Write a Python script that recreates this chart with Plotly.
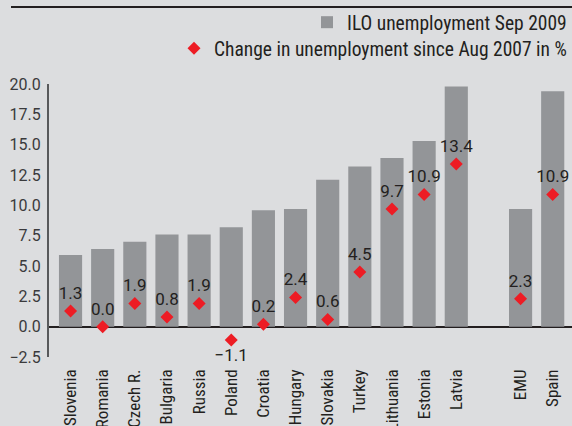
import plotly.graph_objects as go

categories = ["Slovenia", "Romania", "Czech R.", "Bulgaria", "Russia", "Poland", "Croatia",
              "Hungary", "Slovakia", "Turkey", "Lithuania", "Estonia", "Latvia", " ", "EMU", "Spain"]
unemployment_sep2009 = [5.9, 6.4, 7.0, 7.6, 7.6, 8.2, 9.6, 9.7, 12.1, 13.2, 13.9, 15.3, 19.8, None, 9.7, 19.4]
change_since_aug2007 = [1.3, 0.0, 1.9, 0.8, 1.9, -1.1, 0.2, 2.4, 0.6, 4.5, 9.7, 10.9, 13.4, None, 2.3, 10.9]
y_ticks = [-2.5, 0.0, 2.5, 5.0, 7.5, 10.0, 12.5, 15.0, 17.5, 20.0]

FONT = "Roboto, 'DejaVu Sans', sans-serif"
BG = "#dcdddf"
BAR = "#939598"
RED = "#ed1c24"
TXT = "#231f20"

labels = [("" if v is None else ("\u2212" + f"{abs(v):.1f}" if v < 0 else f"{v:.1f}")) for v in change_since_aug2007]
positions = [("bottom center" if (v is not None and v < 0) else "top center") for v in change_since_aug2007]

fig = go.Figure()
fig.add_trace(go.Bar(
    x=categories, y=unemployment_sep2009, name="ILO unemployment Sep 2009",
    marker=dict(color=BAR, line=dict(width=0)), legend="legend",
))
fig.add_trace(go.Scatter(
    x=categories, y=change_since_aug2007, name="Change in unemployment since Aug 2007 in %",
    mode="markers",
    marker=dict(symbol="diamond", size=10, color=RED, line=dict(width=0)),
    legend="legend2", cliponaxis=False,
))
fig.add_trace(go.Scatter(
    x=categories, y=change_since_aug2007, mode="markers+text", text=labels, textposition=positions,
    textfont=dict(family=FONT, size=17, color=TXT),
    marker=dict(size=11, opacity=0), showlegend=False, cliponaxis=False, hoverinfo="skip",
))

fig.update_layout(
    width=572, height=426,
    margin=dict(l=49, r=0, t=84, b=69),
    paper_bgcolor=BG, plot_bgcolor=BG,
    bargap=0.28,
    font=dict(family=FONT, size=17, color=TXT),
    legend=dict(x=0.4952, xanchor="left", y=1 - 3 / 426, yanchor="top", yref="container",
                bgcolor="rgba(0,0,0,0)", font=dict(size=19.5), itemwidth=30),
    legend2=dict(x=0.239, xanchor="left", y=1 - 29 / 426, yanchor="top", yref="container",
                 bgcolor="rgba(0,0,0,0)", font=dict(size=19.5), itemwidth=30),
    showlegend=True,
    xaxis=dict(
        range=[-0.67, 15.6], tickangle=-90, showgrid=False, showline=False, ticks="",
        tickfont=dict(size=17, color=TXT), ticklabelstandoff=8, automargin=False,
    ),
    yaxis=dict(
        range=[-2.5, 20], tickvals=y_ticks, ticktext=["\u22122.5"] + [f"{t:.1f}" for t in y_ticks[1:]],
        showgrid=False, showline=True, linecolor="#58595b", linewidth=2, ticks="",
        zeroline=True, zerolinecolor="#231f20", zerolinewidth=2, automargin=False,
        tickfont=dict(size=16, color="#3a3a3c"), ticklabelstandoff=3,
    ),
    shapes=[dict(type="line", xref="paper", yref="paper", x0=-38 / 523, x1=1,
                 y0=(357 - 7) / 273, y1=(357 - 7) / 273, line=dict(color="#231f20", width=2))],
)

post = """
var st=document.createElement('style');
st.textContent='html,body{margin:0;padding:0;overflow:hidden} svg text{font-stretch:75% !important} '
 + '.ytick text, .textpoint text{font-stretch:100% !important}';
document.head.appendChild(st);
var gd=document.getElementById('{plot_id}');
return Plotly.relayout(gd, {'legend.font.size': 19.51, 'legend2.font.size': 19.51});
"""

fig.write_html("out.html", post_script=post, config={"displayModeBar": False})
